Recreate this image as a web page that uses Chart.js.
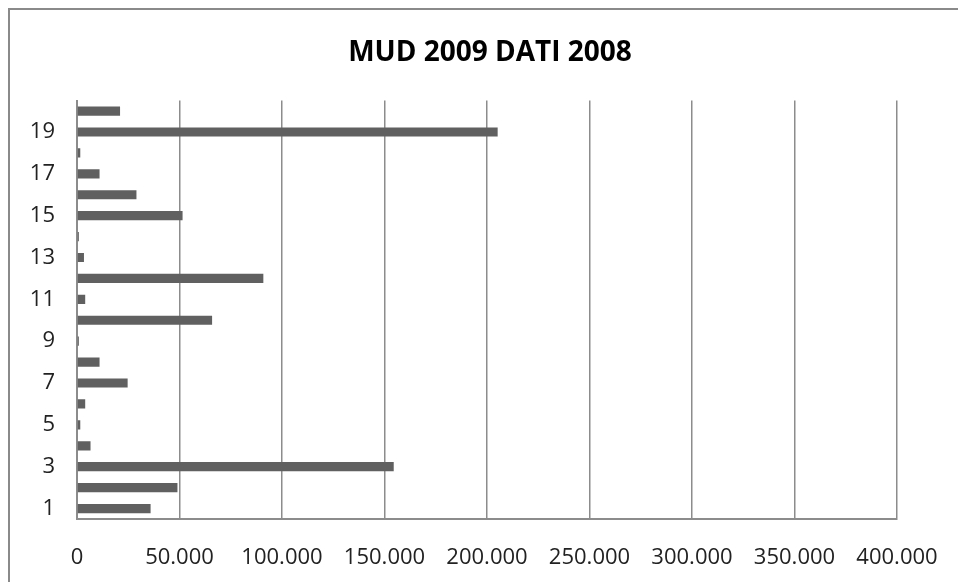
<!DOCTYPE html>
<html>
<head>
<meta charset="utf-8">
<script src="https://cdn.jsdelivr.net/npm/chart.js@4"></script>
<style>
html,body{margin:0;padding:0;background:#fff;}
#wrap{position:relative;width:958px;height:582px;overflow:hidden;}
#frame{position:absolute;left:8px;top:8px;width:1000px;height:1000px;border-left:2px solid #8a8a8a;border-top:2px solid #8a8a8a;}
canvas{position:absolute;left:0;top:0;}
</style>
</head>
<body>
<div id="wrap">
<div id="frame"></div>
<canvas id="c" width="958" height="582"></canvas>
</div>
<script>
const categories = ["1","2","3","4","5","6","7","8","9","10","11","12","13","14","15","16","17","18","19","20"];
const values = [35900, 49000, 154500, 6600, 1600, 4000, 24700, 11000, 900, 65900, 4000, 90900, 3400, 900, 51500, 29000, 11000, 1600, 205200, 21000];
const xTicks = [0, 50000, 100000, 150000, 200000, 250000, 300000, 350000, 400000];
const titleText = "MUD 2009 DATI 2008";

function fmt(v){ return v.toString().replace(/\B(?=(\d{3})+(?!\d))/g, "."); }

const titleShift = {
  id: 'titleShift',
  afterLayout(chart) {
    const t = chart.titleBlock;
    if (t) { t.left = 22; t.right = 958; t.width = 936; }
  }
};

new Chart(document.getElementById('c'), {
  type: 'bar',
  data: {
    labels: categories,
    datasets: [{
      data: values,
      backgroundColor: '#606060',
      borderWidth: 0,
      barPercentage: 0.44,
      categoryPercentage: 1
    }]
  },
  plugins: [titleShift],
  options: {
    indexAxis: 'y',
    responsive: false,
    animation: false,
    layout: { padding: { top: 36, right: 61, bottom: 0, left: 0 } },
    plugins: {
      legend: { display: false },
      tooltip: { enabled: false },
      title: {
        display: true,
        text: titleText,
        color: '#000',
        font: { family: 'Open Sans', size: 28, weight: 'bold' },
        padding: { top: 0, bottom: 31 }
      }
    },
    scales: {
      x: {
        min: xTicks[0],
        max: xTicks[xTicks.length - 1],
        afterBuildTicks: (axis) => { axis.ticks = xTicks.map(v => ({ value: v })); },
        afterFit: (axis) => { axis.height = 63; axis.paddingLeft = 0; axis.paddingRight = 0; },
        grid: { color: '#8c8c8c', lineWidth: 1.5, drawTicks: false },
        border: { display: true, color: '#8c8c8c', width: 2 },
        ticks: {
          color: '#222',
          font: { family: 'Open Sans', size: 22 },
          padding: 26,
          maxRotation: 0,
          autoSkip: false,
          callback: (v) => fmt(v)
        }
      },
      y: {
        reverse: true,
        afterFit: (axis) => { axis.width = 77; },
        grid: { display: false, drawTicks: false },
        border: { display: true, color: '#8c8c8c', width: 2 },
        ticks: {
          color: '#222',
          font: { family: 'Open Sans', size: 22 },
          padding: 22,
          autoSkip: false,
          callback: (v, i) => (i % 2 === 0 ? categories[i] : '')
        }
      }
    }
  }
});
</script>
</body>
</html>
